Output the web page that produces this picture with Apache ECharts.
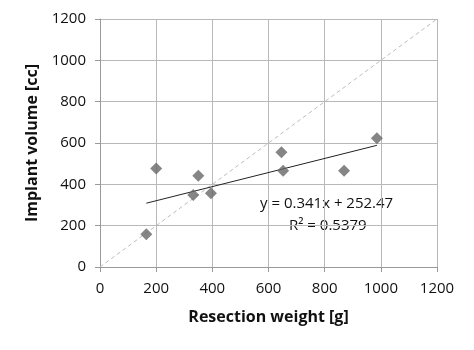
<!DOCTYPE html>
<html><head><meta charset="utf-8">
<script src="https://cdn.jsdelivr.net/npm/echarts@6/dist/echarts.min.js"></script>
<style>html,body{margin:0;padding:0;background:#fff}#c{width:474px;height:350px}</style>
</head><body><div id="c"></div>
<script>
const resectionWeight = [165, 200, 332, 350, 395, 646, 652, 869, 986];
const implantVolume   = [158, 477, 348, 441, 357, 555, 466, 466, 623];
const xTicks = [0, 200, 400, 600, 800, 1000, 1200];
const yTicks = [0, 200, 400, 600, 800, 1000, 1200];
const slope = 0.341, intercept = 252.47;
const equationText = "y = 0.341x + 252.47";
const r2Text = "R² = 0.5379";

const pts = resectionWeight.map((x, i) => [x, implantVolume[i]]);
const xMin = Math.min(...resectionWeight), xMax = Math.max(...resectionWeight);
const trend = [[xMin, slope * xMin + intercept], [xMax, slope * xMax + intercept]];
const identity = [[xTicks[0], yTicks[0]], [xTicks[xTicks.length-1], yTicks[yTicks.length-1]]];

const font = "'Open Sans', 'Liberation Sans', sans-serif";
const chart = echarts.init(document.getElementById('c'), null, {renderer: 'canvas'});
const axisCommon = {
  type: 'value', min: 0, max: 1200, interval: 200,
  axisLine: {show: true, lineStyle: {color: '#999', width: 1}},
  axisTick: {show: true, length: 5, lineStyle: {color: '#999'}},
  splitLine: {show: true, lineStyle: {color: '#b8b8b8', width: 1}},
  axisLabel: {color: '#111', fontSize: 15, fontFamily: font, formatter: v => String(v)},
  nameTextStyle: {color: '#111', fontSize: 16, fontWeight: 'bold', fontFamily: font}
};
chart.setOption({
  animation: false,
  grid: {left: 100, right: 37, top: 19, bottom: 83, containLabel: false},
  xAxis: Object.assign({}, axisCommon, {
    name: 'Resection weight [g]', nameLocation: 'middle', nameGap: 42,
    axisLabel: Object.assign({}, axisCommon.axisLabel, {margin: 14})
  }),
  yAxis: Object.assign({}, axisCommon, {
    name: 'Implant volume [cc]', nameLocation: 'middle', nameGap: 56,
    axisLabel: Object.assign({}, axisCommon.axisLabel, {margin: 14})
  }),
  series: [
    {type: 'line', data: identity, symbol: 'none', silent: true,
     lineStyle: {color: '#bdbdbd', width: 1, type: [4, 3]}, z: 1},
    {type: 'line', data: trend, symbol: 'none', silent: true,
     lineStyle: {color: '#222', width: 1}, z: 2},
    {type: 'scatter', data: pts, symbol: 'diamond', symbolSize: 12,
     itemStyle: {color: '#666'}, z: 3}
  ],
  graphic: [
    {type: 'text', left: 260, top: 196, style: {text: equationText, fill: '#111', font: '15px ' + font}},
    {type: 'text', left: 289, top: 218, style: {text: r2Text, fill: '#111', font: '15px ' + font}}
  ]
});
</script></body></html>
